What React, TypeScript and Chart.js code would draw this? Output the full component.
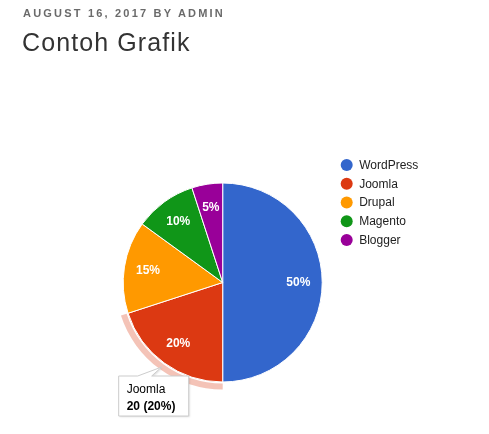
import React, { useEffect, useRef } from "react";
import { Chart, registerables } from "chart.js";

Chart.register(...registerables);

const categories = ["WordPress", "Joomla", "Drupal", "Magento", "Blogger"];
const values = [50, 20, 15, 10, 5];
const colors = ["#3366CC", "#DC3912", "#FF9900", "#109618", "#990099"];
const highlightIndex = 1;

const FONT = "Arial, 'Liberation Sans', sans-serif";

const piePlugin = {
  id: "pieExtras",
  beforeDatasetsDraw(chart: any) {
    const meta = chart.getDatasetMeta(0);
    const arc = meta.data[highlightIndex];
    if (!arc) return;
    const { x, y, startAngle, endAngle, outerRadius } = arc.getProps(
      ["x", "y", "startAngle", "endAngle", "outerRadius"],
      true
    );
    const ctx = chart.ctx;
    ctx.save();
    ctx.beginPath();
    ctx.arc(x, y, outerRadius + 7.5, startAngle, endAngle);
    ctx.arc(x, y, outerRadius + 1.5, endAngle, startAngle, true);
    ctx.closePath();
    ctx.fillStyle = "rgba(220,57,18,0.3)";
    ctx.fill();
    ctx.restore();
  },
  afterDatasetsDraw(chart: any) {
    const meta = chart.getDatasetMeta(0);
    const ctx = chart.ctx;
    const total = values.reduce((a, b) => a + b, 0);
    ctx.save();
    ctx.fillStyle = "#ffffff";
    ctx.font = `bold 12px ${FONT}`;
    ctx.textAlign = "center";
    ctx.textBaseline = "middle";
    meta.data.forEach((arc: any, i: number) => {
      const { x, y, startAngle, endAngle, outerRadius } = arc.getProps(
        ["x", "y", "startAngle", "endAngle", "outerRadius"],
        true
      );
      const mid = (startAngle + endAngle) / 2;
      const r = outerRadius * 0.76;
      const pct = Math.round((values[i] / total) * 100) + "%";
      ctx.fillText(pct, x + Math.cos(mid) * r, y + Math.sin(mid) * r);
    });
    ctx.restore();

    // legend
    const area = chart.chartArea;
    const lx = area.right + 24;
    const ly = area.top - 17.5;
    ctx.save();
    ctx.font = `12px ${FONT}`;
    ctx.textBaseline = "middle";
    ctx.textAlign = "left";
    categories.forEach((c, i) => {
      const cy = ly + i * 18.75;
      ctx.beginPath();
      ctx.arc(lx, cy, 6, 0, Math.PI * 2);
      ctx.fillStyle = colors[i];
      ctx.fill();
      ctx.fillStyle = "#222222";
      ctx.fillText(c, lx + 12.5, cy + 0.5);
    });
    ctx.restore();

    // tooltip for highlighted slice
    const arc = meta.data[highlightIndex];
    const { x, y } = arc.getProps(["x", "y"], true);
    const bx = x - 104;
    const by = y + 93.5;
    const bw = 70;
    const bh = 40;
    ctx.save();
    ctx.shadowColor = "rgba(0,0,0,0.15)";
    ctx.shadowBlur = 2;
    ctx.shadowOffsetX = 1;
    ctx.shadowOffsetY = 1;
    ctx.beginPath();
    ctx.moveTo(bx, by);
    ctx.lineTo(bx + 19, by);
    ctx.lineTo(bx + 43, by - 9);
    ctx.lineTo(bx + 33, by);
    ctx.lineTo(bx + bw, by);
    ctx.lineTo(bx + bw, by + bh);
    ctx.lineTo(bx, by + bh);
    ctx.closePath();
    ctx.fillStyle = "#ffffff";
    ctx.fill();
    ctx.shadowColor = "transparent";
    ctx.strokeStyle = "#cccccc";
    ctx.lineWidth = 1;
    ctx.stroke();
    ctx.fillStyle = "#000000";
    ctx.textAlign = "left";
    ctx.textBaseline = "alphabetic";
    ctx.font = `12px ${FONT}`;
    ctx.fillText(categories[highlightIndex], bx + 8, by + 16.5);
    ctx.font = `bold 12px ${FONT}`;
    const total2 = values.reduce((a, b) => a + b, 0);
    ctx.fillText(
      `${values[highlightIndex]} (${Math.round((values[highlightIndex] / total2) * 100)}%)`,
      bx + 8,
      by + 33.5
    );
    ctx.restore();
  },
};

export default function App() {
  const ref = useRef<HTMLCanvasElement>(null);
  useEffect(() => {
    document.body.style.margin = "0";
    const chart = new Chart(ref.current as HTMLCanvasElement, {
      type: "pie",
      data: {
        labels: categories,
        datasets: [
          {
            data: values,
            backgroundColor: colors,
            borderColor: "#ffffff",
            borderWidth: 1,
            hoverOffset: 0,
          },
        ],
      },
      options: {
        responsive: false,
        animation: false,
        events: [],
        layout: {
          padding: { left: 122.7, right: 166.3, top: 182.5, bottom: 51.5 },
        },
        plugins: {
          legend: { display: false },
          tooltip: { enabled: false },
        },
      },
      plugins: [piePlugin],
    });
    return () => chart.destroy();
  }, []);

  return (
    <div style={{ position: "fixed", left: 0, top: 0, width: 489, height: 434, background: "#fff" }}>
      <canvas ref={ref} width={489} height={434} style={{ position: "absolute", left: 0, top: 0 }} />
      <div
        style={{
          position: "absolute",
          left: 23,
          top: 6,
          fontFamily: FONT,
          fontWeight: "bold",
          fontSize: 11,
          letterSpacing: "2.2px",
          color: "#6a6a6a",
          whiteSpace: "nowrap",
          lineHeight: "14px",
        }}
      >
        AUGUST 16, 2017 BY ADMIN
      </div>
      <div
        style={{
          position: "absolute",
          left: 22,
          top: 27,
          fontFamily: FONT,
          fontSize: 25,
          letterSpacing: "1.1px",
          color: "#333333",
          whiteSpace: "nowrap",
          lineHeight: "30px",
        }}
      >
        Contoh Grafik
      </div>
    </div>
  );
}
